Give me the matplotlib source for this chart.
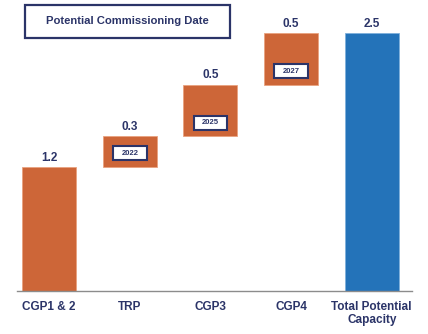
import matplotlib.pyplot as plt
from matplotlib.patches import Rectangle

plt.rcParams['font.family'] = ['Liberation Sans', 'DejaVu Sans']

categories = ["CGP1 & 2", "TRP", "CGP3", "CGP4", "Total Potential\nCapacity"]
increments = [1.2, 0.3, 0.5, 0.5]
total = 2.5
years = [None, "2022", "2025", "2027"]

orange = "#CD6638"
blue = "#2473B9"
navy = "#2B3468"

fig = plt.figure(figsize=(4.28, 3.34), dpi=100)
ax = fig.add_axes([17 / 428, 43 / 334, 395 / 428, 291 / 334])

# waterfall: each step starts where the previous one ended
bases = []
running = 0.0
for v in increments:
    bases.append(running)
    running += v

w = 0.67
for i, (b, v) in enumerate(zip(bases, increments)):
    ax.bar(i, v, bottom=b, width=w, color=orange, edgecolor="#E9A27F", linewidth=0.6)
    ax.text(i, b + v + 0.035, f"{v:.1f}", ha="center", va="bottom",
            fontsize=8.5, fontweight="bold", color=navy)
    if years[i]:
        yc = b + 0.135
        ax.add_patch(Rectangle((i - 0.21, yc - 0.068), 0.42, 0.136,
                               facecolor="white", edgecolor=navy,
                               linewidth=1.5, zorder=3))
        ax.text(i, yc, years[i], ha="center", va="center", zorder=4,
                fontsize=5.5, fontweight="bold", color=navy)

n = len(increments)
ax.bar(n, total, width=w, color=blue, edgecolor="#7FB0DB", linewidth=0.6)
ax.text(n, total + 0.035, f"{total:.1f}", ha="center", va="bottom",
        fontsize=8.5, fontweight="bold", color=navy)

ax.set_xlim(-0.4, 4.5)
ax.set_ylim(0, 2.825)
ax.set_xticks(range(len(categories)))
ax.set_xticklabels(categories, fontsize=8.5, fontweight="bold", color=navy,
                   linespacing=1.1)
ax.tick_params(axis="x", length=0, pad=7)
ax.set_yticks([])
for side in ["top", "right", "left"]:
    ax.spines[side].set_visible(False)
ax.spines["bottom"].set_color("#8C8C8C")
ax.spines["bottom"].set_linewidth(1.0)

# header box
fig.patches.append(Rectangle((25 / 428, 1 - 38 / 334), 205 / 428, 33 / 334,
                             transform=fig.transFigure, facecolor="white",
                             edgecolor=navy, linewidth=1.6))
fig.text(127.5 / 428, 1 - 21.5 / 334, "Potential Commissioning Date",
         ha="center", va="center", fontsize=8.1, fontweight="bold", color=navy)

fig.savefig("out.png", dpi=100)
